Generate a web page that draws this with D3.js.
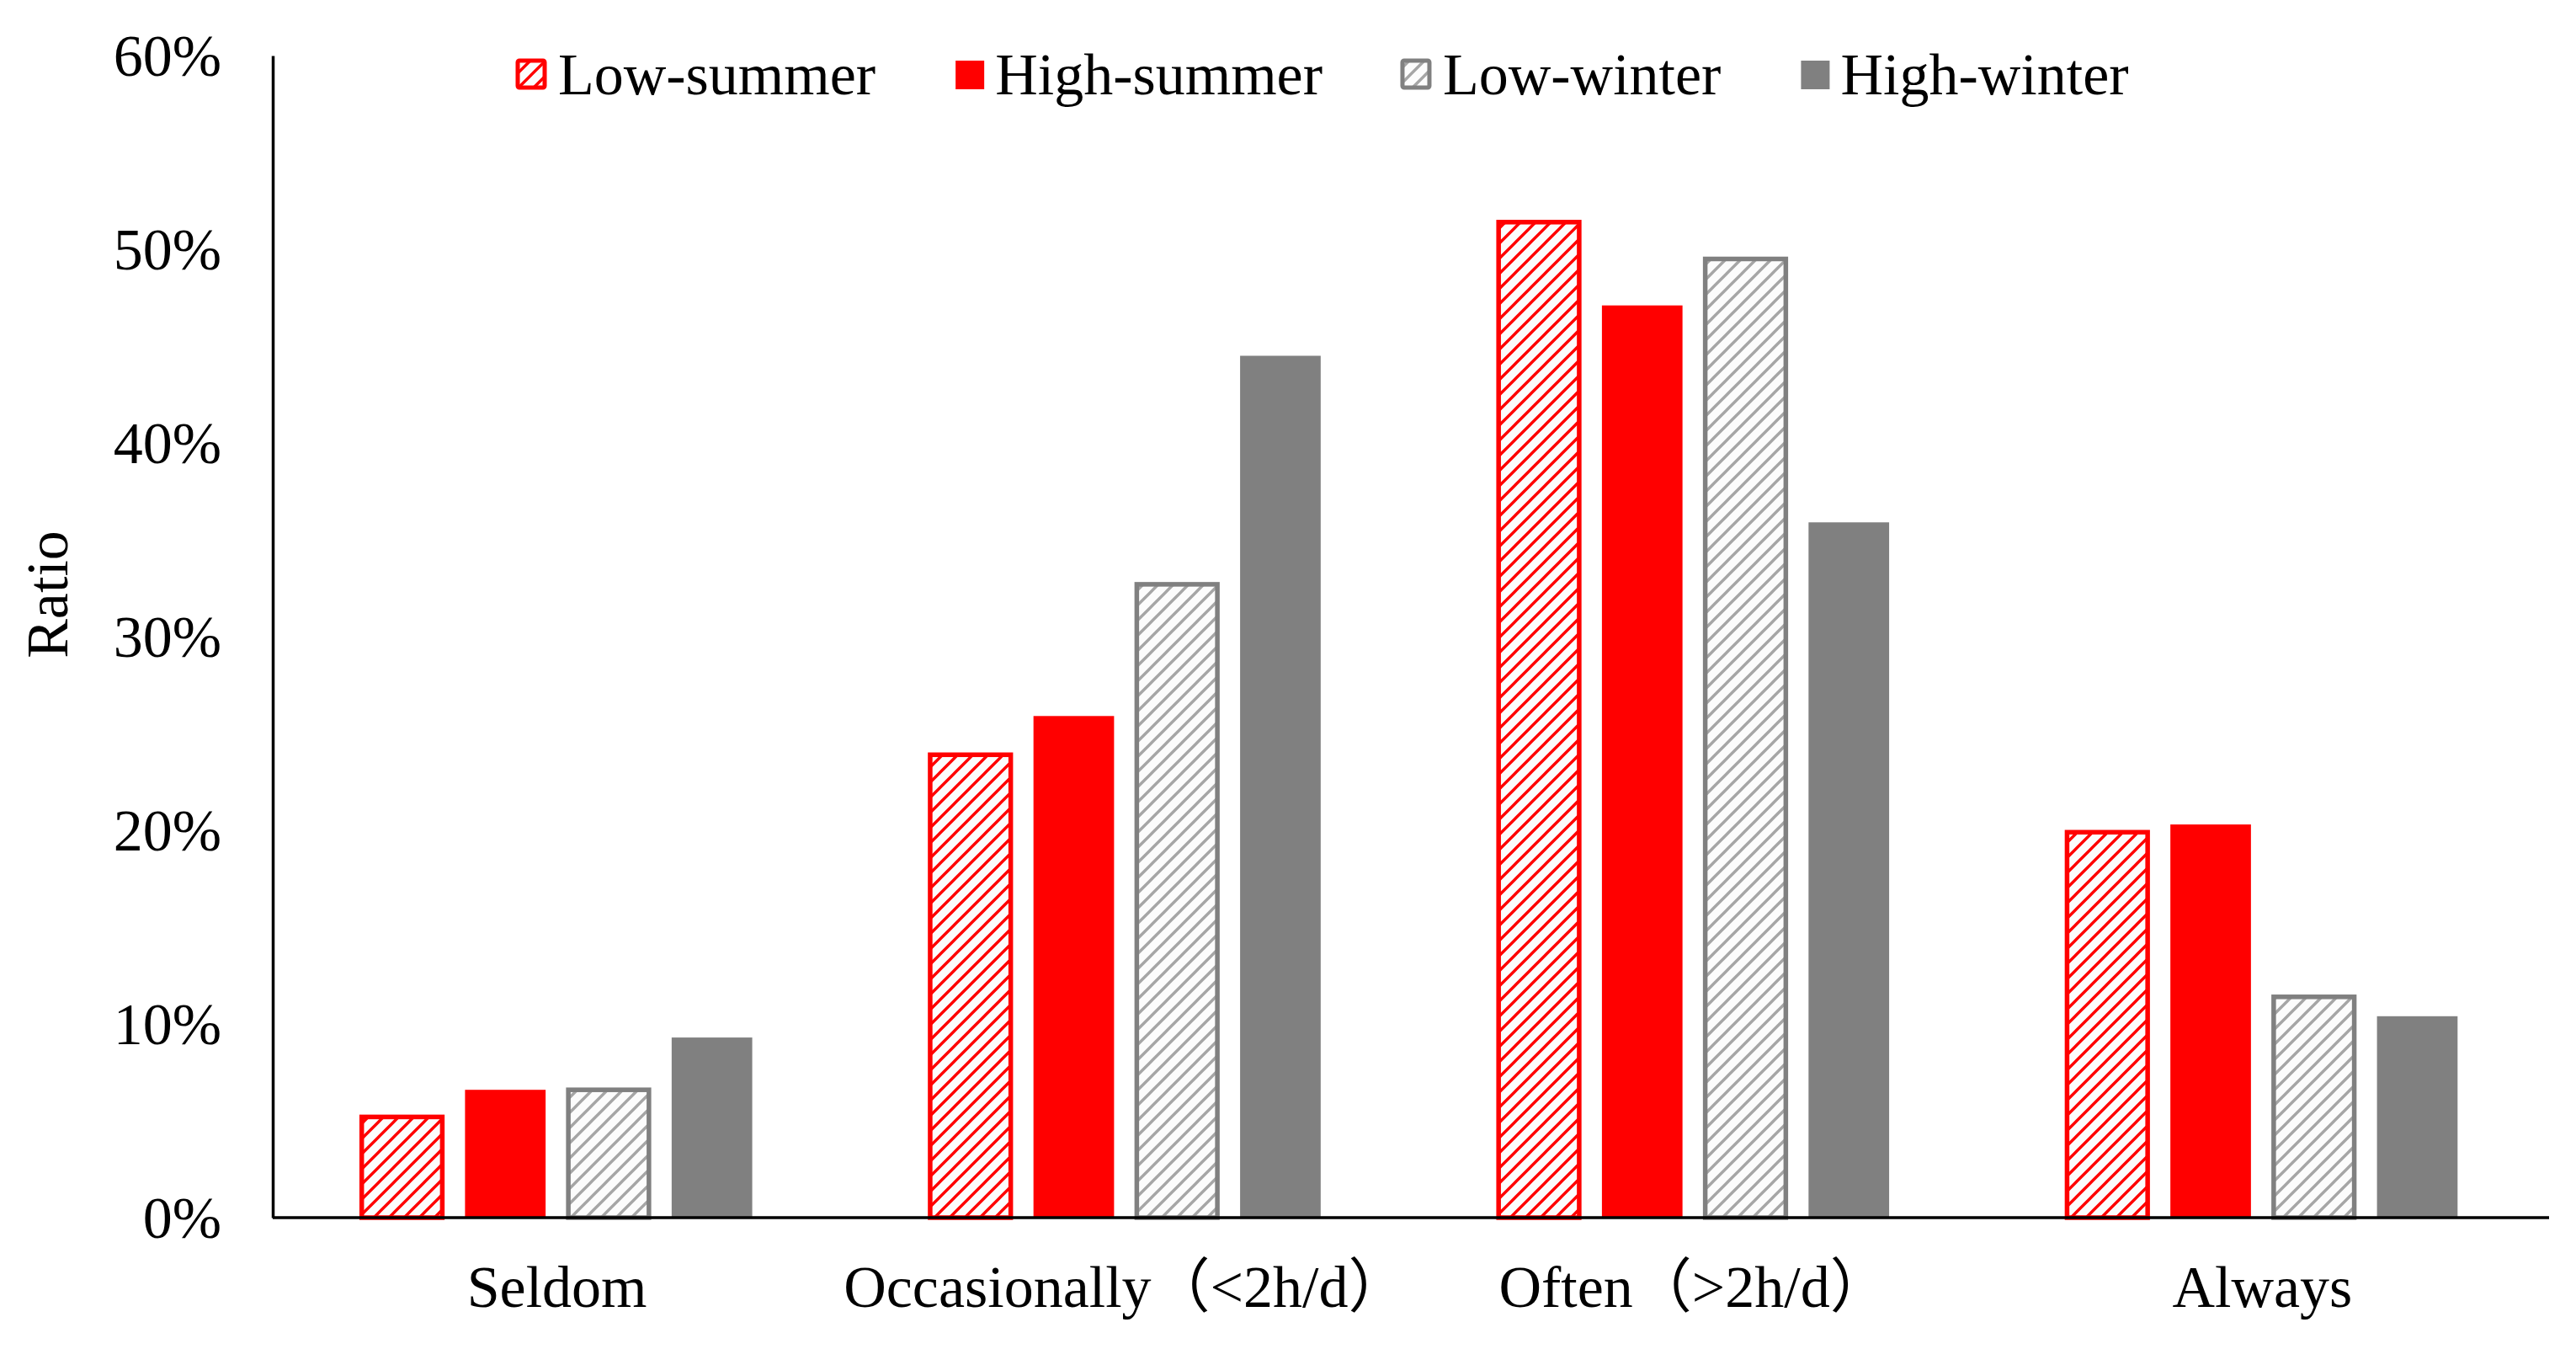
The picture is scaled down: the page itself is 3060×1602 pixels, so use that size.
<!DOCTYPE html>
<html>
<head>
<meta charset="utf-8">
<script src="https://cdn.jsdelivr.net/npm/d3@7"></script>
<style>
  body { margin: 0; background: #fff; }
  text { font-family: "Liberation Serif", "Times New Roman", "Noto Sans CJK SC", serif; fill: #000; }
</style>
</head>
<body>
<div id="chart"></div>
<script>
var categories = ["Seldom", "Occasionally\uFF08<2h/d\uFF09", "Often\uFF08>2h/d\uFF09", "Always"];
var seriesNames = ["Low-summer", "High-summer", "Low-winter", "High-winter"];
var lowSummer  = [0.052, 0.239, 0.514, 0.199];
var highSummer = [0.066, 0.259, 0.471, 0.203];
var lowWinter  = [0.066, 0.327, 0.495, 0.114];
var highWinter = [0.093, 0.445, 0.359, 0.104];
var yTicks = [0, 0.1, 0.2, 0.3, 0.4, 0.5, 0.6];

var seriesValues = [lowSummer, highSummer, lowWinter, highWinter];
var seriesStyle = [
    { fill: "url(#hatchRed)", stroke: "#ff0000", hatched: true },
    { fill: "#ff0000", stroke: "none", hatched: false },
    { fill: "url(#hatchGray)", stroke: "#808080", hatched: true },
    { fill: "#808080", stroke: "none", hatched: false }
];

var W = 3060, H = 1602;
var plotLeft = 324, plotRight = 3028, plotTop = 66, plotBottom = 1446;

var svg = d3.select("#chart").append("svg").attr("width", W).attr("height", H);

// hatch patterns (upward diagonal)
var defs = svg.append("defs");
function hatch(id, color) {
    var p = defs.append("pattern").attr("id", id)
        .attr("patternUnits", "userSpaceOnUse")
        .attr("width", 18).attr("height", 18);
    p.append("rect").attr("width", 18).attr("height", 18).attr("fill", "#fcfcfc");
    p.append("path")
        .attr("d", "M-4.5,4.5 L4.5,-4.5 M0,18 L18,0 M13.5,22.5 L22.5,13.5")
        .attr("stroke", color).attr("stroke-width", 3.4);
}
hatch("hatchRed", "#ff0000");
hatch("hatchGray", "#a6a6a6");

var x0 = d3.scaleBand().domain(categories).range([plotLeft, 3025])
    .paddingInner(0.313).paddingOuter(0.1565);
var x1 = d3.scaleBand().domain(seriesNames).range([0, x0.bandwidth()]).paddingInner(0.22);
var y = d3.scaleLinear().domain([0, 0.6]).range([plotBottom, plotTop]);

// bars
var rows = [];
categories.forEach(function(c, ci) {
    seriesNames.forEach(function(s, si) {
        rows.push({ cat: c, series: s, si: si, value: seriesValues[si][ci] });
    });
});

svg.append("g").selectAll("rect").data(rows).enter().append("rect")
    .attr("x", function(d) { return x0(d.cat) + x1(d.series); })
    .attr("y", function(d) { return y(d.value); })
    .attr("width", x1.bandwidth())
    .attr("height", function(d) { return plotBottom - y(d.value); })
    .attr("fill", function(d) { return seriesStyle[d.si].fill; })
    .attr("stroke", function(d) { return seriesStyle[d.si].stroke; })
    .attr("stroke-width", function(d) { return seriesStyle[d.si].hatched ? 5.5 : 0; });

// y axis
var yAxis = svg.append("g").attr("transform", "translate(" + plotLeft + ",0)")
    .call(d3.axisLeft(y).tickValues(yTicks).tickFormat(d3.format(".0%"))
        .tickSize(0).tickPadding(61));
yAxis.select(".domain").attr("stroke", "#000").attr("stroke-width", 3.5);
yAxis.selectAll("text").attr("font-size", 70)
    .attr("font-family", "Liberation Serif").attr("dy", "0.34em");

// x axis
var xAxis = svg.append("g").attr("transform", "translate(0," + plotBottom + ")")
    .call(d3.axisBottom(x0).tickSize(0).tickPadding(56));
xAxis.select(".domain").attr("stroke", "#000").attr("stroke-width", 3.5)
    .attr("d", "M" + plotLeft + ",0H" + plotRight);
xAxis.selectAll("text").attr("font-size", 70)
    .attr("font-family", "Liberation Serif, Noto Sans CJK SC");

// y title
svg.append("text")
    .attr("transform", "translate(80,706) rotate(-90)")
    .attr("text-anchor", "middle")
    .attr("font-size", 70)
    .text("Ratio");

// legend
var lx = 612;
var legend = svg.append("g");
seriesNames.forEach(function(s, i) {
    var st = seriesStyle[i];
    var g = legend.append("g");
    g.append("rect")
        .attr("x", lx + 3).attr("y", 72)
        .attr("width", st.hatched ? 32 : 34).attr("height", st.hatched ? 32 : 34)
        .attr("rx", st.hatched ? 2 : 0)
        .attr("fill", st.fill).attr("stroke", st.stroke)
        .attr("stroke-width", st.hatched ? 5 : 0);
    var t = g.append("text")
        .attr("x", lx + (st.hatched ? 51 : 50)).attr("y", 112)
        .attr("font-size", 70)
        .text(s);
    lx = lx + (st.hatched ? 51 : 50) + t.node().getComputedTextLength() + 92;
});
</script>
</body>
</html>
